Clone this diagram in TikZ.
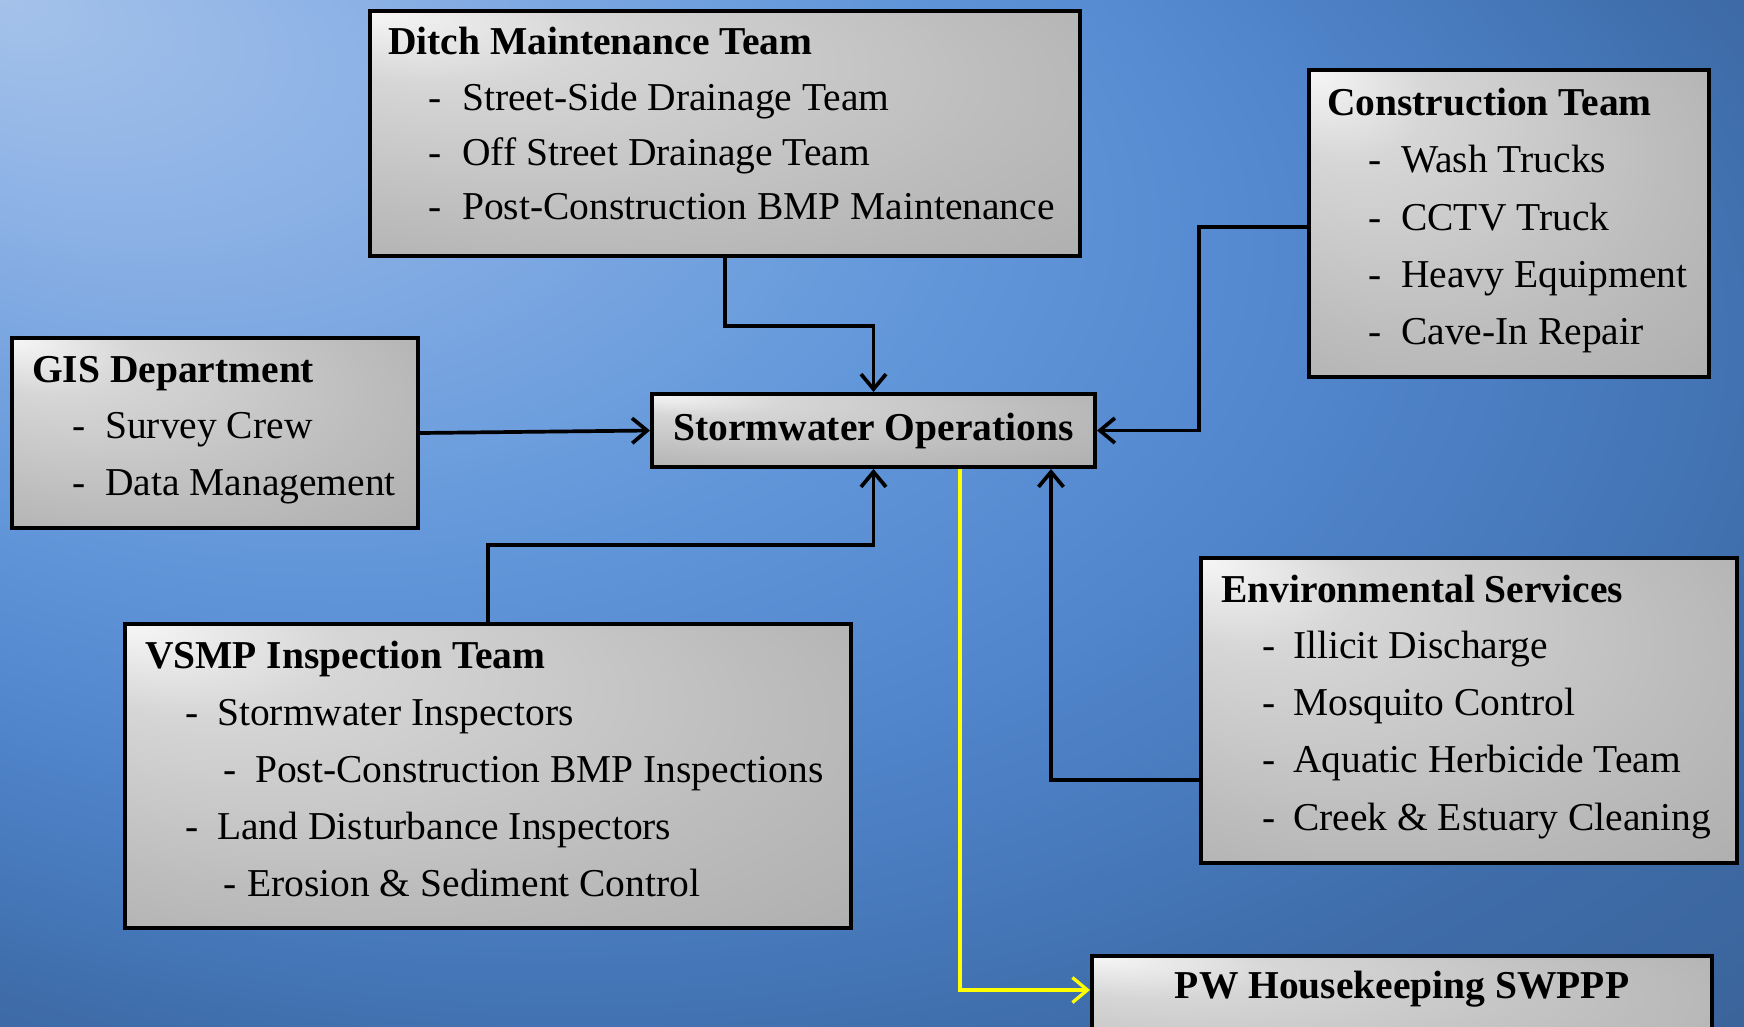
\documentclass[tikz,border=0pt]{standalone}
\usepackage{fontspec}
\setmainfont{Liberation Serif}
\usetikzlibrary{arrows.meta}
\definecolor{bgA}{HTML}{A4C2EA}
\definecolor{bgB}{HTML}{8AB0E5}
\definecolor{bgC}{HTML}{6297DA}
\definecolor{bgD}{HTML}{5287CE}
\definecolor{bgE}{HTML}{4678BA}
\definecolor{bgF}{HTML}{3F6DAA}
\definecolor{bgG}{HTML}{3A6399}
\definecolor{bgH}{HTML}{385F96}
\definecolor{bxA}{HTML}{F6F6F6}
\definecolor{bxB}{HTML}{D6D6D6}
\definecolor{bxC}{HTML}{BCBCBC}
\definecolor{bxD}{HTML}{A6A6A6}
\definecolor{ylw}{HTML}{FFFF00}
\pgfdeclareradialshading{bgsh}{\pgfpoint{-25bp}{25bp}}{color(0bp)=(bgA); color(8bp)=(bgB); color(18bp)=(bgC); color(25bp)=(bgD); color(31bp)=(bgE); color(35bp)=(bgF); color(42bp)=(bgG); color(50bp)=(bgH)}
\pgfdeclareradialshading{boxsh}{\pgfpoint{-25bp}{25bp}}{color(0bp)=(bxA); color(10bp)=(bxB); color(30bp)=(bxC); color(50bp)=(bxD)}
\newcommand\dashitem[2]{\makebox[#1][l]{-}#2}
\begin{document}
\begin{tikzpicture}[x=1pt,y=-1pt,
  box/.style={rectangle, draw=black, line width=4pt, shade, shading=boxsh, inner sep=0pt},
  ttl/.style={anchor=base west, inner sep=0pt, font=\fontsize{39.5}{47}\selectfont\bfseries},
  itm/.style={anchor=base west, inner sep=0pt, font=\fontsize{39.5}{47}\selectfont},
  conn/.style={draw=black, line width=3.7pt, -{Straight Barb[length=15pt,width=25pt]}},
  yconn/.style={draw=ylw, line width=3.3pt, -{Straight Barb[length=15pt,width=25pt]}}]
\path[use as bounding box] (0,0) rectangle (1744,1026);
\clip (0,0) rectangle (1744,1026);
\shade[shading=bgsh] (0,0) rectangle (1744,1026);

% boxes
\node[box, minimum width=710pt, minimum height=245pt] (ditch) at (725,133.5) {};
\node[box, minimum width=400pt, minimum height=307pt] (cons) at (1509,223.5) {};
\node[box, minimum width=406pt, minimum height=190pt] (gis) at (215,433) {};
\node[box, minimum width=443pt, minimum height=73pt, font=\fontsize{39.5}{47}\selectfont\bfseries] (so) at (873.5,430.5) {Stormwater Operations};
\node[box, minimum width=726pt, minimum height=304pt] (vsmp) at (488,776) {};
\node[box, minimum width=536pt, minimum height=305pt] (env) at (1469,710.5) {};
\node[box, minimum width=620pt, minimum height=140pt, anchor=north] (pw) at (1402,954) {};
\node[ttl, anchor=base] (pwt) at (1402,998) {PW Housekeeping SWPPP};

% Ditch
\node[ttl] (d0) at (388,54) {Ditch Maintenance Team};
\node[itm] (d1) at (428,110) {\dashitem{34pt}{Street-Side Drainage Team}};
\node[itm] (d2) at (428,165) {\dashitem{34pt}{Off Street Drainage Team}};
\node[itm] (d3) at (428,219) {\dashitem{34pt}{Post-Construction BMP Maintenance}};

% Construction
\node[ttl] (c0) at (1327,115) {Construction Team};
\node[itm] (c1) at (1368,172) {\dashitem{33pt}{Wash Trucks}};
\node[itm] (c2) at (1368,230) {\dashitem{33pt}{CCTV Truck}};
\node[itm] (c3) at (1368,287) {\dashitem{33pt}{Heavy Equipment}};
\node[itm] (c4) at (1368,344) {\dashitem{33pt}{Cave-In Repair}};

% GIS
\node[ttl] (g0) at (32,382) {GIS Department};
\node[itm] (g1) at (72,438) {\dashitem{33pt}{Survey Crew}};
\node[itm] (g2) at (72,495) {\dashitem{33pt}{Data Management}};

% VSMP
\node[ttl] (v0) at (145,668) {VSMP Inspection Team};
\node[itm] (v1) at (185,725) {\dashitem{32pt}{Stormwater Inspectors}};
\node[itm] (v2) at (223,782) {\dashitem{32pt}{Post-Construction BMP Inspections}};
\node[itm] (v3) at (185,839) {\dashitem{32pt}{Land Disturbance Inspectors}};
\node[itm] (v4) at (223,896) {\dashitem{24pt}{Erosion \& Sediment Control}};

% Environmental
\node[ttl] (e0) at (1221,602) {Environmental Services};
\node[itm] (e1) at (1262,658) {\dashitem{31pt}{Illicit Discharge}};
\node[itm] (e2) at (1262,715) {\dashitem{31pt}{Mosquito Control}};
\node[itm] (e3) at (1262,772) {\dashitem{31pt}{Aquatic Herbicide Team}};
\node[itm] (e4) at (1262,830) {\dashitem{31pt}{Creek \& Estuary Cleaning}};

% connectors
\coordinate (k1) at (873.5,326);
\coordinate (k2) at (1199,227);
\coordinate (k3) at (487,545);
\coordinate (k4) at (1051,780);
\coordinate (k5) at (960,990);
\draw[conn] (ditch.south) |- (k1) -- (so.north);
\draw[conn] (gis.east) -- (so.west);
\draw[conn] (cons.west |- k2) -- (k2) |- (so.east);
\draw[conn] (vsmp.north) |- (so.south |- k3) -- (so.south);
\draw[conn] (env.west |- k4) -- (k4) -- (so.south -| k4);
\draw[yconn] (so.south -| k5) -- (k5) -- (pw.west |- k5);
\end{tikzpicture}
\end{document}
